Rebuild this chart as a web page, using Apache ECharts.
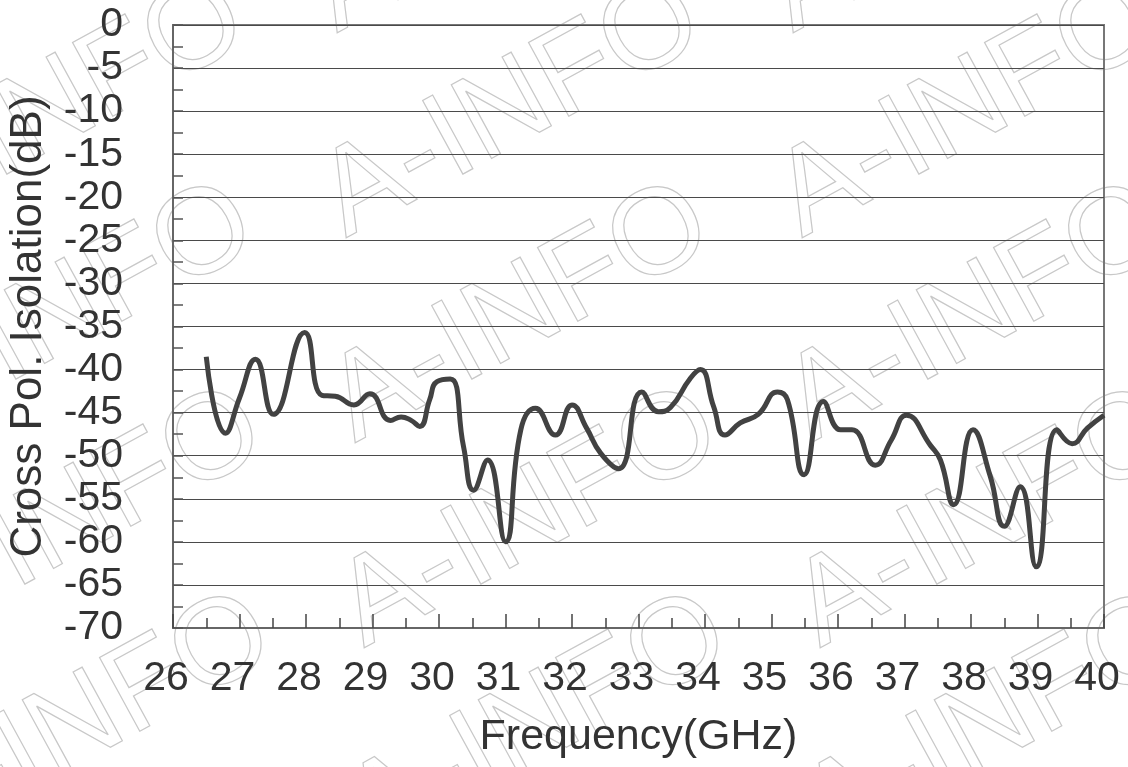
<!DOCTYPE html>
<html>
<head>
<meta charset="utf-8">
<script src="https://cdn.jsdelivr.net/npm/echarts@6/dist/echarts.min.js"></script>
<style>
html,body{margin:0;padding:0;background:#fff;}
#main{width:1128px;height:767px;}
</style>
</head>
<body>
<div id="main"></div>
<script>
// Frequency (GHz)
var freq = [26.50,26.79,27.00,27.24,27.51,27.98,28.24,28.44,28.72,28.96,29.27,29.43,29.58,29.71,29.86,29.97,30.17,30.37,30.52,30.73,31.00,31.23,31.45,31.75,32.00,32.22,32.43,32.70,33.05,33.30,33.48,33.78,33.93,34.13,34.30,34.53,34.80,35.09,35.24,35.49,35.78,36.04,36.21,36.56,36.80,37.03,37.39,37.54,37.74,38.03,38.29,38.50,38.74,38.98,39.29,39.52,39.75,40.00];
// Cross Pol. Isolation (dB)
var isolation = [-38.5,-47.4,-43.3,-38.8,-45.2,-35.7,-43.0,-43.1,-44.1,-42.8,-45.9,-45.5,-45.9,-46.6,-43.5,-41.4,-41.1,-49.0,-54.0,-50.5,-60.0,-47.0,-44.5,-47.6,-44.1,-46.8,-49.7,-51.5,-42.6,-44.9,-44.4,-41.0,-40.0,-44.3,-47.6,-46.2,-45.2,-42.6,-43.5,-52.2,-43.7,-47.0,-47.0,-51.1,-48.2,-45.3,-48.8,-50.5,-55.7,-47.0,-52.4,-58.2,-53.6,-62.9,-47.0,-48.6,-46.8,-45.3];
var xTicks = [26,27,28,29,30,31,32,33,34,35,36,37,38,39,40];
var yTicks = [0,-5,-10,-15,-20,-25,-30,-35,-40,-45,-50,-55,-60,-65,-70];
var watermarkText = 'A-INFO';

var seriesData = freq.map(function (f, i) { return [f, isolation[i]]; });

// watermark lattice
var wm = [];
for (var j = -2; j <= 3; j++) {
  for (var i = -1; i <= 2; i++) {
    wm.push({
      type: 'text',
      x: 359 + 456 * i + 9 * j,
      y: 262 + 205 * j,
      rotation: 0.5,
      z: -10,
      silent: true,
      style: {
        text: watermarkText,
        font: 'normal 122px "Liberation Sans"',
        fill: 'none',
        stroke: '#c8c8c8',
        lineWidth: 1.2,
        textAlign: 'left',
        textVerticalAlign: 'bottom'
      }
    });
  }
}

var chart = echarts.init(document.getElementById('main'));
chart.setOption({
  backgroundColor: '#ffffff',
  animation: false,
  graphic: wm,
  grid: {
    left: 173, right: 24, top: 25, bottom: 139,
    containLabel: false,
    outerBoundsMode: 'none',
    show: true, borderColor: '#777', borderWidth: 2, backgroundColor: 'transparent'
  },
  xAxis: {
    type: 'value',
    min: 26, max: 40, interval: 1,
    name: 'Frequency(GHz)',
    nameLocation: 'middle',
    nameGap: 88,
    nameTextStyle: { fontSize: 43, color: '#333', fontFamily: 'Liberation Sans' },
    axisLine: { show: true, onZero: false, lineStyle: { color: '#666', width: 2 } },
    axisTick: { show: true, inside: true, length: 14, lineStyle: { color: '#444', width: 1.5 } },
    minorTick: { show: true, splitNumber: 2, length: 10, lineStyle: { color: '#444', width: 1.5 } },
    splitLine: { show: false },
    axisLabel: {
      fontSize: 41, color: '#333', fontFamily: 'Liberation Sans', margin: 30,
      padding: [0, 14, 0, 0],
      formatter: function (v) { return xTicks.indexOf(v) >= 0 ? String(v) : ''; }
    }
  },
  yAxis: {
    type: 'value',
    min: -70, max: 0, interval: 5,
    name: 'Cross Pol. Isolation(dB)',
    nameLocation: 'middle',
    nameGap: 122,
    nameTextStyle: { fontSize: 44, color: '#333', fontFamily: 'Liberation Sans' },
    axisLine: { show: true, onZero: false, lineStyle: { color: '#666', width: 2 } },
    axisTick: { show: true, inside: true, length: 10, lineStyle: { color: '#555', width: 1.5 } },
    minorTick: { show: true, splitNumber: 2, length: 10, lineStyle: { color: '#555', width: 1.5 } },
    splitLine: { show: true, lineStyle: { color: '#4a4a4a', width: 1.2 } },
    axisLabel: {
      fontSize: 41, color: '#333', fontFamily: 'Liberation Sans', margin: 50,
      formatter: function (v) { return yTicks.indexOf(v) >= 0 ? String(v) : ''; }
    }
  },
  series: [{
    type: 'line',
    data: seriesData,
    smooth: 0.5,
    showSymbol: false,
    lineStyle: { color: '#424242', width: 5 },
    z: 5
  }]
});
</script>
</body>
</html>
